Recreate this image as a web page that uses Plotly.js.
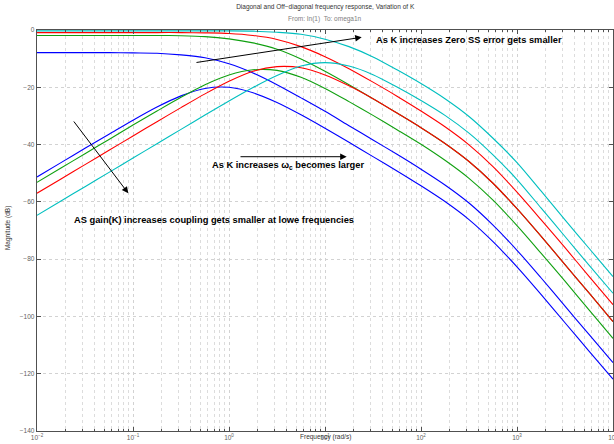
<!DOCTYPE html>
<html>
<head>
<meta charset="utf-8">
<script src="https://cdn.plot.ly/plotly-3.0.1.min.js"></script>
<style>html,body{margin:0;padding:0;background:#fff;}#chart{width:614px;height:444px;}</style>
</head>
<body>
<div id="chart"></div>
<script>
// Frequency samples (rad/s), quarter-decade spacing from 1e-2 to 1e4
const freq = [0.01, 0.01778, 0.03162, 0.05623, 0.1, 0.1778, 0.3162, 0.5623, 1, 1.778, 3.162, 5.623, 10, 17.78, 31.62, 56.23, 100, 177.8, 316.2, 562.3, 1000, 1778, 3162, 5623, 10000];

// Magnitudes (dB)
const diagBlue  = [-7.9, -7.9, -7.9, -7.9, -8.0, -8.1, -8.7, -9.7, -11.8, -15.0, -19.1, -23.7, -28.4, -33.4, -38.4, -43.4, -48.6, -54.1, -60.4, -68.1, -76.9, -86.5, -96.4, -106.3, -116.1];
const offBlue   = [-51.3, -46.3, -41.3, -36.4, -31.5, -26.9, -23.0, -20.4, -20.0, -21.9, -25.3, -29.6, -34.3, -39.2, -44.2, -49.2, -54.4, -59.9, -66.2, -73.9, -82.7, -92.3, -102.2, -112.1, -121.9];
const diagGreen = [-1.9, -1.9, -1.9, -1.9, -1.9, -1.9, -2.0, -2.3, -3.1, -4.5, -6.7, -10.1, -14.4, -19.1, -24.0, -29.0, -34.1, -39.6, -45.9, -53.5, -62.4, -72.0, -81.9, -91.8, -101.8];
const offGreen  = [-53.2, -48.2, -43.2, -38.2, -33.2, -28.3, -23.5, -19.1, -15.7, -13.9, -14.1, -16.5, -20.4, -25.0, -29.8, -34.8, -39.9, -45.5, -51.8, -59.4, -68.3, -77.9, -87.7, -97.7, -107.7];
const diagRed   = [-0.9, -0.9, -0.9, -0.9, -0.9, -0.9, -0.9, -1.0, -1.2, -1.9, -3.3, -5.8, -9.3, -13.5, -18.2, -23.1, -28.3, -33.8, -40.1, -47.7, -56.6, -66.2, -76.0, -86.0, -95.9];
const offRed    = [-57.0, -52.0, -47.0, -42.0, -37.0, -32.0, -27.1, -22.3, -17.9, -14.4, -12.8, -13.2, -15.7, -19.5, -24.0, -29.0, -34.1, -39.6, -45.9, -53.5, -62.4, -72.0, -81.9, -91.8, -101.8];
const diagCyan  = [-0.3, -0.3, -0.3, -0.3, -0.3, -0.3, -0.3, -0.3, -0.3, -0.4, -0.8, -1.5, -3.2, -5.8, -9.4, -13.9, -18.7, -24.0, -30.2, -37.8, -46.3, -56.2, -66.3, -76.2, -86.1];
const offCyan   = [-64.7, -59.7, -54.7, -49.7, -44.7, -39.7, -34.7, -29.7, -24.8, -20.1, -15.9, -12.6, -11.4, -12.6, -15.6, -19.9, -24.6, -29.8, -36.0, -43.6, -52.2, -62.1, -72.1, -82.1, -91.9];

const decadeTicks = [0.01, 0.1, 1, 10, 100, 1000, 10000];
const decadeText = ['10<sup>−2</sup>', '10<sup>−1</sup>', '10<sup>0</sup>', '10<sup>1</sup>', '10<sup>2</sup>', '10<sup>3</sup>', '10<sup>4</sup>'];
const magTicks = [0, -20, -40, -60, -80, -100, -120, -140];

const series = [
  {y: diagBlue, c: '#0000ff'}, {y: offBlue, c: '#0000ff'},
  {y: offGreen, c: '#10a010'}, {y: diagGreen, c: '#10a010'},
  {y: diagRed, c: '#ff0000'}, {y: offRed, c: '#ff0000'},
  {y: diagCyan, c: '#00bfbf'}, {y: offCyan, c: '#00bfbf'}
];

const traces = series.map(s => ({
  x: freq, y: s.y, type: 'scatter', mode: 'lines',
  line: {color: s.c, width: 1.1, shape: 'spline', smoothing: 0.8},
  hoverinfo: 'skip', showlegend: false
}));

const FONT = 'Liberation Sans, Arial, Helvetica, sans-serif';
const axisCommon = {
  showline: true, linecolor: '#505050', linewidth: 1.3, mirror: 'allticks',
  ticks: 'inside', ticklen: 4, tickcolor: '#505050', tickwidth: 1,
  showgrid: true, gridcolor: '#d2d2d2', griddash: 'dot', gridwidth: 1,
  zeroline: false, tickfont: {family: FONT, size: 6.5, color: '#606060'},
  ticklabeloverflow: 'allow'
};

const layout = {
  width: 614, height: 444,
  margin: {l: 37, r: 1, t: 30, b: 13},
  paper_bgcolor: '#fff', plot_bgcolor: '#fff',
  showlegend: false,
  title: {text: 'Diagonal and Off−diagonal frequency response, Variation of K',
          font: {family: FONT, size: 6.5, color: '#333'},
          x: 0.5296, xanchor: 'center', xref: 'container', y: 0.984, yanchor: 'middle', yref: 'container'},
  xaxis: Object.assign({}, axisCommon, {
    type: 'log', range: [-2, 4], tickmode: 'array', tickvals: decadeTicks, ticktext: decadeText,
    minor: {dtick: 'D1', ticks: 'inside', ticklen: 2, tickcolor: '#505050', showgrid: true,
            gridcolor: '#dcdcdc', griddash: 'dot', gridwidth: 1}
  }),
  yaxis: Object.assign({}, axisCommon, {
    range: [-140, 0], tickmode: 'array', tickvals: magTicks
  }),
  annotations: [
    {text: 'From: In(1)  To: omega1n', xref: 'paper', yref: 'paper', x: 0.5, y: 1.0274,
     xanchor: 'center', yanchor: 'middle', showarrow: false, font: {family: FONT, size: 6.5, color: '#808080'}},
    {text: 'Magnitude (dB)', xref: 'paper', yref: 'paper', x: -0.0503, y: 0.506, textangle: -90,
     xanchor: 'center', yanchor: 'middle', showarrow: false, font: {family: FONT, size: 6.5, color: '#333'}},
    {text: 'Frequency (rad/s)', xref: 'paper', yref: 'paper', x: 0.50, y: -0.016,
     xanchor: 'center', yanchor: 'middle', showarrow: false, font: {family: FONT, size: 6.5, color: '#333'}},
    {text: '<b>As K increases Zero SS error gets smaller</b>', xref: 'paper', yref: 'paper', x: 0.585, y: 0.975,
     xanchor: 'left', yanchor: 'middle', showarrow: false, font: {family: FONT, size: 9.3, color: '#000'}},
    {text: '<b>As K increases ω<sub>c</sub> becomes larger</b>', xref: 'paper', yref: 'paper', x: 0.301, y: 0.6616,
     xanchor: 'left', yanchor: 'middle', showarrow: false, font: {family: FONT, size: 9.3, color: '#000'}},
    {text: '<b>AS gain(K) increases coupling gets smaller at lowe frequencies</b>', xref: 'paper', yref: 'paper', x: 0.061, y: 0.526,
     xanchor: 'left', yanchor: 'middle', showarrow: false, font: {family: FONT, size: 9.3, color: '#000'}},
    {text: '', xref: 'paper', yref: 'paper', x: 0.5637, y: 0.9818, ax: -166.7, ay: 25.4,
     showarrow: true, arrowhead: 2, arrowsize: 1.3, arrowwidth: 1, arrowcolor: '#000', standoff: 0},
    {text: '', xref: 'paper', yref: 'paper', x: 0.5377, y: 0.684, ax: -107.7, ay: 0,
     showarrow: true, arrowhead: 2, arrowsize: 1.3, arrowwidth: 1, arrowcolor: '#000', standoff: 0},
    {text: '', xref: 'paper', yref: 'paper', x: 0.1585, y: 0.5928, ax: -55.6, ay: -73.3,
     showarrow: true, arrowhead: 2, arrowsize: 1.3, arrowwidth: 1, arrowcolor: '#000', standoff: 0}
  ]
};

Plotly.newPlot('chart', traces, layout, {staticPlot: true, displayModeBar: false});
</script>
</body>
</html>
